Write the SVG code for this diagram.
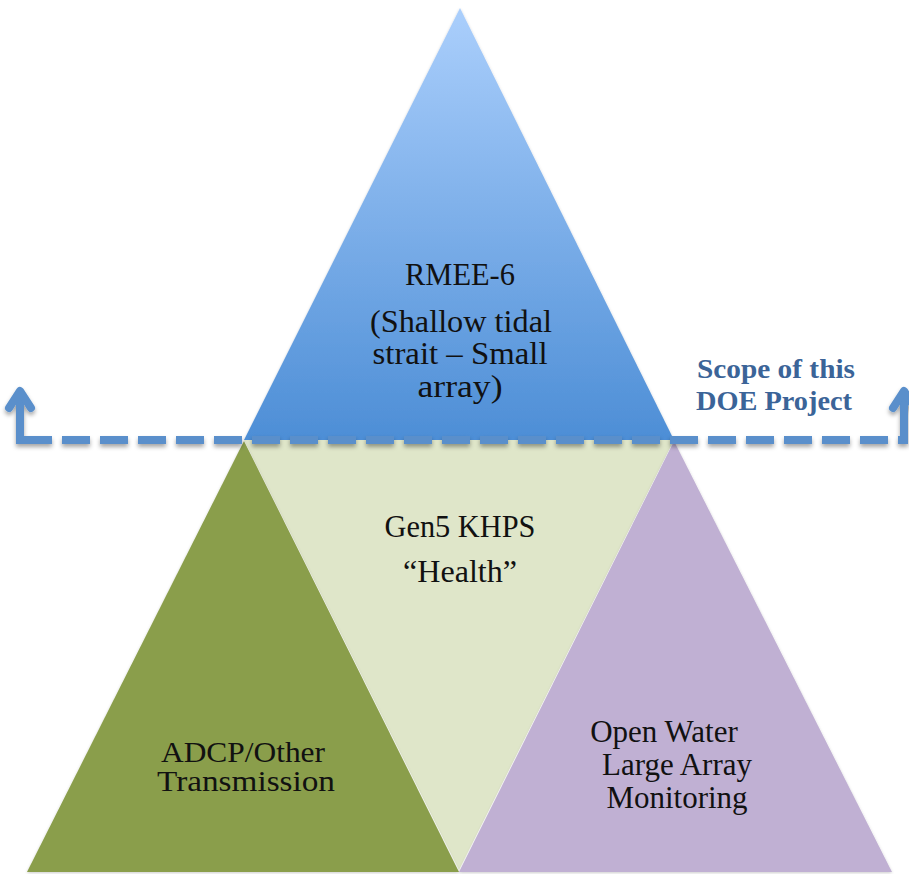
<svg xmlns="http://www.w3.org/2000/svg" width="909" height="874" viewBox="0 0 909 874">
  <defs>
    <linearGradient id="gTop" x1="0" y1="0" x2="0" y2="1">
      <stop offset="0" stop-color="#abcffc"/>
      <stop offset="1" stop-color="#4d8ed6"/>
    </linearGradient>
    <filter id="sh" x="-10%" y="-10%" width="120%" height="130%">
      <feDropShadow dx="0" dy="3" stdDeviation="2" flood-color="#000" flood-opacity="0.35"/>
    </filter>
    <filter id="soft" x="-5%" y="-5%" width="110%" height="110%">
      <feDropShadow dx="0" dy="1" stdDeviation="1.5" flood-color="#000" flood-opacity="0.2"/>
    </filter>
  </defs>
  <style>
    .lbl { font-family: "Liberation Serif", "DejaVu Serif", serif; font-size: 31px; fill: #111; text-anchor: middle; }
    .tight { font-size: 30px; }
    .scope { font-family: "Liberation Serif", "DejaVu Serif", serif; font-size: 27px; font-weight: bold; fill: #3b6498; text-anchor: middle; }
    .conn { fill: none; stroke: #5a8fcb; stroke-width: 8; }
  </style>
  <rect width="909" height="874" fill="#fff"/>

  <g id="node-top" filter="url(#soft)">
    <polygon points="460,8 244,440 674,440" fill="url(#gTop)"/>
  </g>
  <g id="node-middle">
    <polygon points="244,440 674,440 459,870" fill="#dfe6c9"/>
  </g>
  <g id="node-left" filter="url(#soft)">
    <polygon points="244,441 27,872 459,872" fill="#8a9e4b"/>
  </g>
  <g id="node-right" filter="url(#soft)">
    <polygon points="674,441 459,872 892,872" fill="#c0b0d3"/>
  </g>

  <g id="connectors" filter="url(#sh)">
    <path class="conn" d="M24,440 L904,440" stroke-dasharray="28,10" stroke-linecap="butt"/>
    <path class="conn" d="M20,444 L20,392" stroke-width="7"/>
    <path class="conn" d="M9,408 L20,391 L31,408" stroke-width="6" stroke-linecap="round" stroke-linejoin="round"/>
    <path class="conn" d="M904,444 L904,392" stroke-width="7"/>
    <path class="conn" d="M893,408 L904,391 L915,408" stroke-width="6" stroke-linecap="round" stroke-linejoin="round"/>
  </g>

  <g id="text-top">
    <text class="lbl" x="460" y="285" textLength="110" lengthAdjust="spacingAndGlyphs">RMEE-6</text>
    <text class="lbl" x="461" y="332" textLength="182" lengthAdjust="spacingAndGlyphs">(Shallow tidal</text>
    <text class="lbl" x="460" y="364" textLength="175" lengthAdjust="spacingAndGlyphs">strait – Small</text>
    <text class="lbl" x="460" y="397" textLength="85" lengthAdjust="spacingAndGlyphs">array)</text>
  </g>
  <g id="text-scope">
    <text class="scope" x="776" y="378" textLength="158" lengthAdjust="spacingAndGlyphs">Scope of this</text>
    <text class="scope" x="774" y="410" textLength="156" lengthAdjust="spacingAndGlyphs">DOE Project</text>
  </g>
  <g id="text-middle">
    <text class="lbl" x="460" y="537" textLength="151" lengthAdjust="spacingAndGlyphs">Gen5 KHPS</text>
    <text class="lbl" x="460" y="582" textLength="114" lengthAdjust="spacingAndGlyphs">“Health”</text>
  </g>
  <g id="text-left">
    <text class="lbl tight" x="243" y="762" textLength="164" lengthAdjust="spacingAndGlyphs">ADCP/Other</text>
    <text class="lbl tight" x="246" y="791" textLength="178" lengthAdjust="spacingAndGlyphs">Transmission</text>
  </g>
  <g id="text-right">
    <text class="lbl" x="664" y="742">Open Water</text>
    <text class="lbl" x="677" y="775">Large Array</text>
    <text class="lbl" x="677" y="808">Monitoring</text>
  </g>
</svg>
